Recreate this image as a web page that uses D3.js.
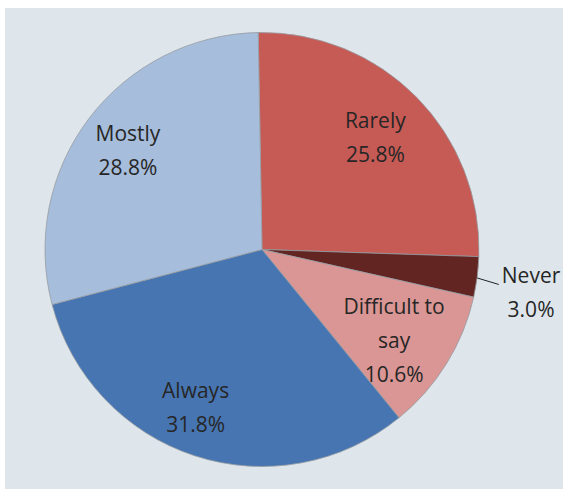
<!DOCTYPE html>
<html><head><meta charset="utf-8">
<script src="https://cdn.jsdelivr.net/npm/d3@7"></script>
<style>body{margin:0;background:#fff}svg{display:block}</style>
</head><body>
<svg id="c" width="563" height="489"></svg>
<script>
const categories = ["Rarely", "Never", "Difficult to say", "Always", "Mostly"];
const values = [25.8, 3.0, 10.6, 31.8, 28.8];
const labelLines = [["Rarely"], ["Never"], ["Difficult to", "say"], ["Always"], ["Mostly"]];
const colors = ["#C65A55", "#622522", "#DA9694", "#4675B2", "#A6BDDC"];
// label placement (radius fraction, angle nudge in degrees)
const labelRadius = [0.733, 1.256, 0.74, 0.79, 0.768];
const labelNudge = [0, 1.9, 2.9, 4.7, -0.7];

const svg = d3.select("#c");
svg.append("rect").attr("x", 5).attr("y", 8).attr("width", 558).attr("height", 481).attr("fill", "#DEE6EC");

const cx = 262, cy = 249.5, R = 217;
const start = -1 * Math.PI / 180;
const pie = d3.pie().sort(null).value(d => d).startAngle(start).endAngle(start + 2 * Math.PI);
const arcs = pie(values);
const arc = d3.arc().innerRadius(0).outerRadius(R);
const g = svg.append("g").attr("transform", `translate(${cx},${cy})`);
g.selectAll("path").data(arcs).join("path")
  .attr("d", arc).attr("fill", (d, i) => colors[i])
  .attr("stroke", "#979ca1").attr("stroke-width", 0.8);

const fs = 21, lh = 34, cap = 15;
arcs.forEach((a, i) => {
  const mid = (a.startAngle + a.endAngle) / 2;
  const ang = mid + labelNudge[i] * Math.PI / 180;
  const r = labelRadius[i] * R;
  const lx = r * Math.sin(ang), ly = -r * Math.cos(ang);
  const lines = labelLines[i].concat([values[i].toFixed(1) + "%"]);
  const b0 = ly - (lines.length - 1) * lh / 2 + cap / 2;
  const t = g.append("text").attr("text-anchor", "middle")
    .attr("font-family", "'Open Sans', sans-serif").attr("font-size", fs).attr("fill", "#262626");
  lines.forEach((s, k) => t.append("tspan").attr("x", lx).attr("y", b0 + k * lh).text(s));
  if (labelRadius[i] > 1) {
    const w = t.select("tspan").node().getComputedTextLength();
    const ex = R * Math.sin(mid), ey = -R * Math.cos(mid);
    g.append("line").attr("x1", ex).attr("y1", ey + 1)
      .attr("x2", lx - w / 2 - 3).attr("y2", b0 + 1)
      .attr("stroke", "#222").attr("stroke-width", 1);
  }
});
</script>
</body></html>
